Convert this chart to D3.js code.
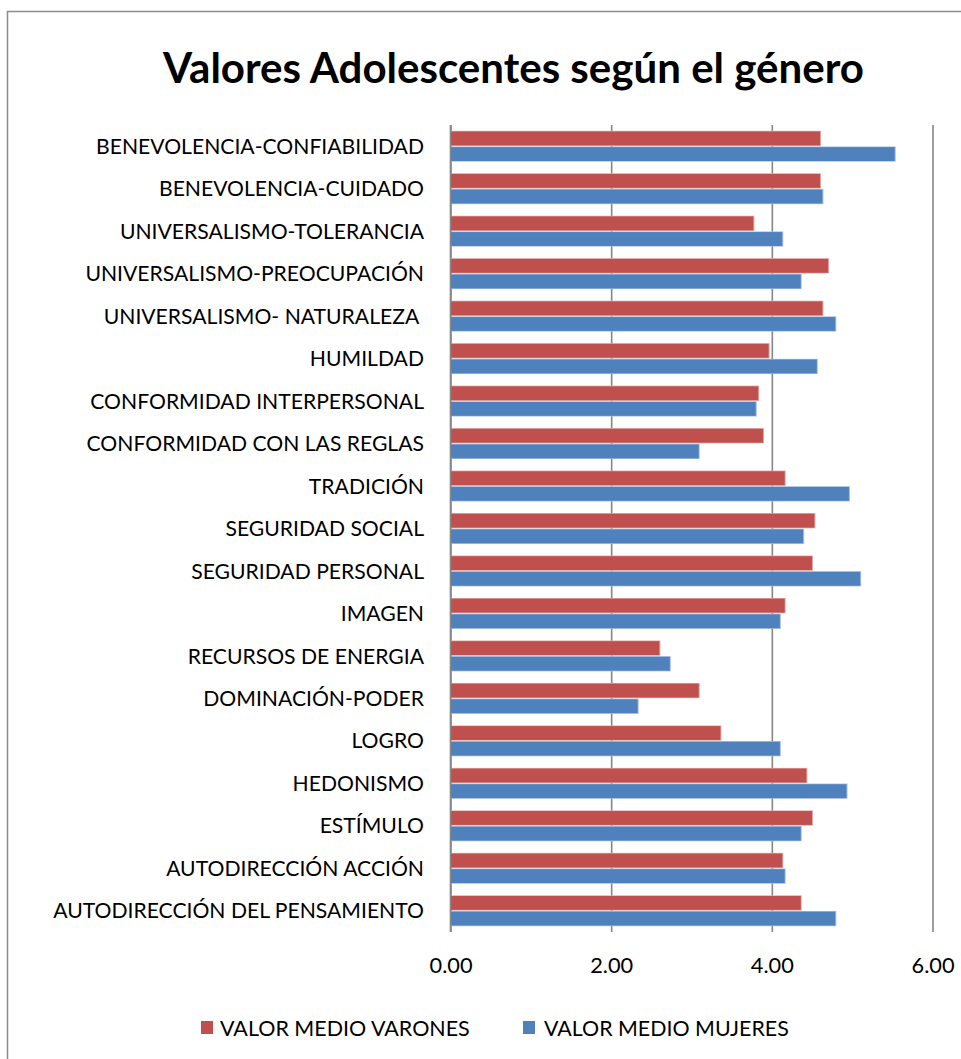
<!DOCTYPE html>
<html>
<head>
<meta charset="utf-8">
<script src="https://cdnjs.cloudflare.com/ajax/libs/d3/7.8.5/d3.min.js"></script>
<style>
  html, body { margin: 0; padding: 0; background: #fff; }
  svg { display: block; }
  text { font-family: Lato, "Open Sans", sans-serif; fill: #000; }
</style>
</head>
<body>
<svg id="chart" width="961" height="1059"></svg>
<script>
// ---- DATA ----
const title = "Valores Adolescentes según el género";
const categories = [
  "BENEVOLENCIA-CONFIABILIDAD",
  "BENEVOLENCIA-CUIDADO",
  "UNIVERSALISMO-TOLERANCIA",
  "UNIVERSALISMO-PREOCUPACIÓN",
  "UNIVERSALISMO- NATURALEZA ",
  "HUMILDAD",
  "CONFORMIDAD INTERPERSONAL",
  "CONFORMIDAD CON LAS REGLAS",
  "TRADICIÓN",
  "SEGURIDAD SOCIAL",
  "SEGURIDAD PERSONAL",
  "IMAGEN",
  "RECURSOS DE ENERGIA",
  "DOMINACIÓN-PODER",
  "LOGRO",
  "HEDONISMO",
  "ESTÍMULO",
  "AUTODIRECCIÓN ACCIÓN",
  "AUTODIRECCIÓN DEL PENSAMIENTO"
];
const seriesNames = ["VALOR MEDIO VARONES", "VALOR MEDIO MUJERES"];
const varones = [4.60, 4.60, 3.77, 4.70, 4.63, 3.96, 3.83, 3.89, 4.16, 4.53, 4.50, 4.16, 2.60, 3.09, 3.36, 4.43, 4.50, 4.13, 4.36];
const mujeres = [5.53, 4.63, 4.13, 4.36, 4.79, 4.56, 3.80, 3.09, 4.96, 4.39, 5.10, 4.10, 2.73, 2.33, 4.10, 4.93, 4.36, 4.16, 4.79];
const xTicks = [0, 2, 4, 6];
const xDomain = [0, 6];
const colors = ["#C0504D", "#4F81BD"];
const lightColors = ["#E2A9A7", "#A9C1E3"];

// ---- LAYOUT ----
const svg = d3.select("#chart");
const plot = { left: 450.5, right: 932.5, top: 125, bottom: 932 };

// frame
svg.append("rect")
  .attr("x", 7.5).attr("y", 11.5)
  .attr("width", 1000).attr("height", 1100)
  .attr("fill", "none").attr("stroke", "#8C8C8C").attr("stroke-width", 1.5);

function fitFont(sel, base, target) {
  sel.style("font-size", base + "px");
  const w = sel.node().getComputedTextLength();
  const fs = base * target / w;
  sel.style("font-size", fs + "px");
  return fs;
}

// title
const t = svg.append("text")
  .attr("x", 513.5).attr("y", 83)
  .attr("text-anchor", "middle")
  .style("font-weight", "bold")
  .text(title);
fitFont(t, 40, 701);

const x = d3.scaleLinear().domain(xDomain).range([plot.left, plot.right]);
const y = d3.scaleBand().domain(categories).range([plot.top, plot.bottom])
  .paddingInner(0.263).paddingOuter(0.1315);
const ys = d3.scaleBand().domain([0, 1]).range([0, y.bandwidth()]);

// x axis with gridlines
const xAxis = svg.append("g")
  .attr("transform", `translate(0,${plot.bottom})`)
  .call(d3.axisBottom(x).tickValues(xTicks).tickFormat(d3.format(".2f"))
    .tickSize(-(plot.bottom - plot.top)).tickPadding(0));
xAxis.select(".domain").remove();
xAxis.selectAll(".tick line").attr("stroke", "#868686").attr("stroke-width", 1.6);
const tickTexts = xAxis.selectAll(".tick text").attr("y", 41).attr("dy", 0);
const probe = svg.append("text").text("0.00");
const tickFs = fitFont(probe, 20, 43);
probe.remove();
tickTexts.style("font-size", tickFs + "px").style("font-family", "Lato, 'Open Sans', sans-serif").attr("fill", "#000");

// bars
const series = [varones, mujeres];
const groups = svg.append("g");
categories.forEach((c, i) => {
  series.forEach((vals, s) => {
    const y0 = y(c) + ys(s);
    const h = ys.bandwidth();
    groups.append("rect")
      .attr("x", x(0) + 0.5).attr("y", y0 + 0.2)
      .attr("width", x(vals[i]) - x(0) + 0.5).attr("height", h - 0.4)
      .attr("fill", lightColors[s]);
    groups.append("rect")
      .attr("x", x(0) + 0.5).attr("y", y0 + 0.9)
      .attr("width", x(vals[i]) - x(0) - 0.5).attr("height", h - 1.8)
      .attr("fill", colors[s]);
  });
});

// zero line over bars
svg.append("line")
  .attr("x1", x(0)).attr("x2", x(0))
  .attr("y1", plot.top).attr("y2", plot.bottom)
  .attr("stroke", "#868686").attr("stroke-width", 1.6);

// y axis labels
const yAxis = svg.append("g")
  .attr("transform", "translate(424,0)")
  .call(d3.axisLeft(y).tickSize(0).tickPadding(0));
yAxis.select(".domain").remove();
const labelTexts = yAxis.selectAll(".tick text");
const probe2 = svg.append("text").text("AUTODIRECCIÓN DEL PENSAMIENTO");
const labelFs = fitFont(probe2, 20, 371);
probe2.remove();
labelTexts.style("font-size", labelFs + "px")
  .style("font-family", "Lato, 'Open Sans', sans-serif")
  .attr("fill", "#000").attr("dy", "0.36em")
  .style("white-space", "pre");

// legend
const legendItems = [
  { name: seriesNames[0], color: colors[0], sx: 201, tx: 220, w: 250 },
  { name: seriesNames[1], color: colors[1], sx: 523, tx: 544, w: 245 }
];
legendItems.forEach(it => {
  svg.append("rect").attr("x", it.sx).attr("y", 1021).attr("width", 12).attr("height", 13)
    .attr("fill", it.color);
  const lt = svg.append("text").attr("x", it.tx).attr("y", 1035.5).text(it.name);
  fitFont(lt, 20, it.w);
});
</script>
</body>
</html>
